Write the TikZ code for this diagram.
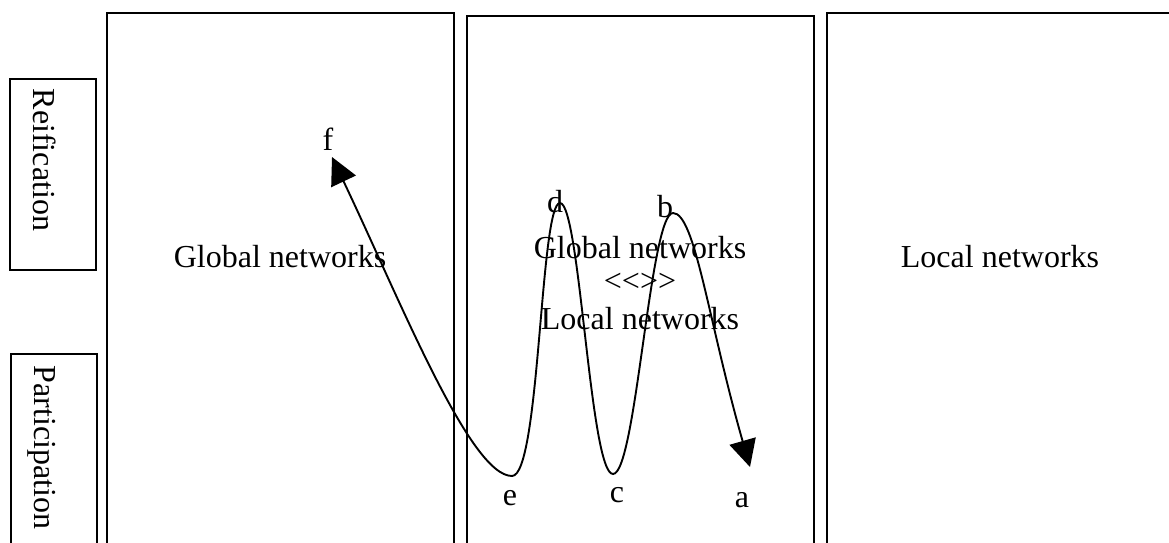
\documentclass[tikz,border=0pt]{standalone}
\usepackage{fontspec}
\setmainfont{Liberation Serif}
\newfontfamily\plainserif{Liberation Serif}
\usetikzlibrary{arrows.meta}
\begin{document}
\begin{tikzpicture}[x=1pt,y=-1pt,line width=1.6pt,
  panel/.style={draw,rectangle,inner sep=0pt,outer sep=0pt},
  lbl/.style={font=\fontsize{32}{38}\selectfont,inner sep=0pt,anchor=base},
  sidelbl/.style={font=\fontsize{32}{38}\selectfont,inner sep=0pt,rotate=-90,anchor=base west},
  bigtip/.tip={Triangle[length=27pt,width=27pt]},
  wave/.style={line width=1.9pt,bigtip-bigtip}]
\useasboundingbox (0,0) rectangle (1169,542);
\clip (0,0) rectangle (1169,542);
% panels
\node[panel,minimum width=347pt,minimum height=557pt] (box1) at (280.5,291.5) {};
\node[panel,minimum width=347pt,minimum height=554pt] (box2) at (640.5,293) {};
\node[panel,minimum width=373pt,minimum height=557pt] (box3) at (1013.5,291.5) {};
\node[panel,minimum width=86pt,minimum height=191pt] (reifbox) at (53,174.5) {};
\node[panel,minimum width=86pt,minimum height=216pt] (partbox) at (54,462) {};
% side labels
\node[sidelbl] (reif) at (33,88) {Reification};
\node[sidelbl] (part) at (34,365) {Participation};
% panel texts
\node[lbl] (gn1) at (280,267) {Global networks};
\node[lbl] (gn2) at (640,258) {Global networks};
\node[lbl] (mid) at (640,291) {\plainserif <<>>};
\node[lbl] (ln2) at (640,329) {Local networks};
\node[lbl] (ln3) at (1000,267) {Local networks};
% point letters
\node[lbl] (lf) at (328,150) {f};
\node[lbl] (ld) at (555,212) {d};
\node[lbl] (lb) at (665,217) {b};
\node[lbl] (le) at (510,505) {e};
\node[lbl] (lc) at (617,502) {c};
\node[lbl] (la) at (742,507) {a};
% curve points
\coordinate (pf) at (332,157);
\coordinate (pe) at (512,476);
\coordinate (pd) at (560,203);
\coordinate (pc) at (613,474);
\coordinate (pb) at (673,213);
\coordinate (pa) at (750,467);
\draw[wave] (pf) .. controls (400,300) and (470,476) .. (pe)
  .. controls (540,476) and (540,203) .. (pd)
  .. controls (580,203) and (590,474) .. (pc)
  .. controls (636,474) and (650,213) .. (pb)
  .. controls (695,213) and (708,320) .. (pa);
\end{tikzpicture}
\end{document}
